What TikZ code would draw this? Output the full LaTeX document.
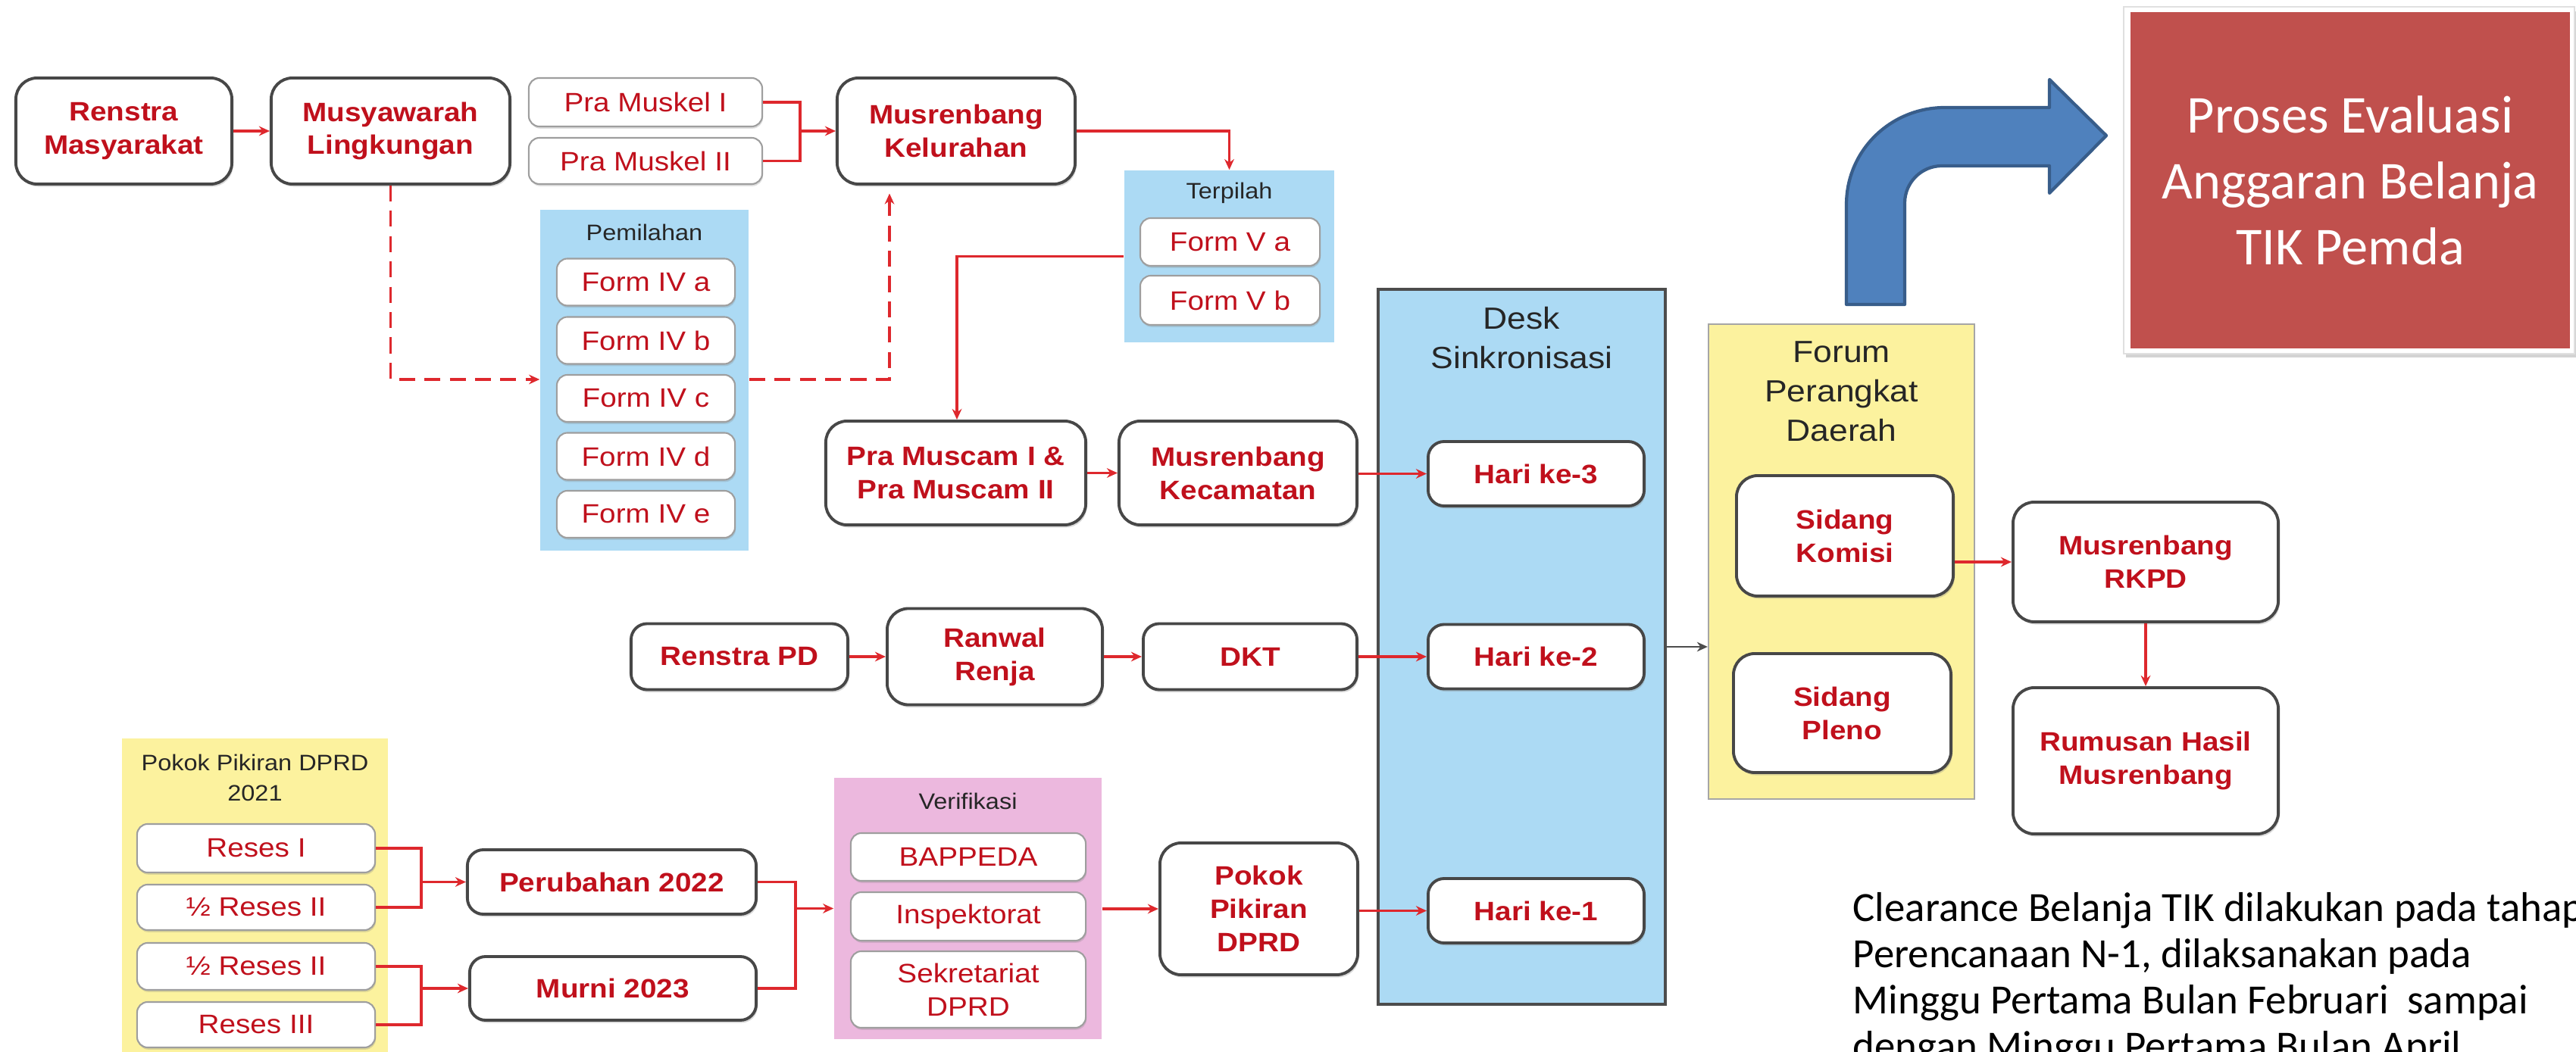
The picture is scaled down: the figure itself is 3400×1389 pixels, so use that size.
\documentclass[tikz,border=0pt]{standalone}
\usepackage{fontspec}
\setmainfont{Liberation Sans}
\newfontfamily\df[FakeStretch=1.1]{Liberation Sans}
\newfontfamily\calf{Carlito}
\usetikzlibrary{arrows.meta,shadows}
\definecolor{txtred}{RGB}{192,16,28}
\definecolor{lnred}{RGB}{222,40,45}
\definecolor{pblue}{RGB}{172,218,244}
\definecolor{pyellow}{RGB}{252,242,158}
\definecolor{ppink}{RGB}{236,184,222}
\definecolor{boxred}{RGB}{192,80,77}
\definecolor{arrblue}{RGB}{79,129,189}
\definecolor{arrblued}{RGB}{56,93,138}
\begin{document}
\begin{tikzpicture}[x=0.01cm,y=-0.01cm,
  mainbox/.style={draw=black!72, line width=1.1pt, fill=white, rounded corners=8pt, align=center, inner sep=0pt, text=txtred,
    font=\df\bfseries\fontsize{10}{12.5}\selectfont, drop shadow={shadow xshift=0.5pt, shadow yshift=-1pt, opacity=0.3}},
  hbox/.style={mainbox, rounded corners=6pt},
  lightbox/.style={draw=black!38, line width=0.6pt, fill=white, rounded corners=4pt, align=center, inner sep=0pt, text=txtred,
    font=\df\fontsize{10}{12.5}\selectfont, drop shadow={shadow xshift=0.3pt, shadow yshift=-0.8pt, opacity=0.25}},
  panel/.style={inner sep=0pt, draw=none},
  heading/.style={font=\df\fontsize{8.4}{11.4}\selectfont, text=black!85, align=center, inner sep=0pt},
  biglabel/.style={font=\df\fontsize{11.5}{14.8}\selectfont, text=black!85, align=center, inner sep=0pt},
  arr/.style={draw=lnred, line width=0.9pt, -{Stealth[length=4pt,width=3.6pt]}},
  ln/.style={draw=lnred, line width=0.9pt},
  dsh/.style={draw=lnred, line width=0.9pt, dash pattern=on 6pt off 3.5pt},
  note/.style={font=\calf\fontsize{15.6}{17.4}\selectfont, anchor=base west, inner sep=0pt, text=black}
]
\useasboundingbox (0,0) rectangle (3400,1389);
\clip (0,0) rectangle (3400,1389);

% ---------- panels ----------
\node[panel, fill=pblue, minimum width=2.75cm, minimum height=4.50cm] (pemil) at (850.5,502) {};
\node[heading] (pemlab) at (850.5,307) {Pemilahan};
\node[panel, fill=pblue, minimum width=2.77cm, minimum height=2.27cm] (terp) at (1622.5,338.5) {};
\node[heading] (terplab) at (1622.5,255) {Terpilah};
\node[panel, fill=pblue, draw=black!70, line width=1.2pt, minimum width=3.79cm, minimum height=9.44cm] (desk) at (2008.5,854) {};
\node[biglabel] (desklab) at (2008.5,446) {Desk\\Sinkronisasi};
\node[panel, fill=pyellow, draw=black!35, line width=0.6pt, minimum width=3.51cm, minimum height=6.27cm] (forum) at (2430.5,741.5) {};
\node[biglabel] (forumlab) at (2430.5,517) {Forum\\Perangkat\\Daerah};
\node[panel, fill=pyellow, minimum width=3.51cm, minimum height=4.45cm] (pp) at (336.5,1197.5) {};
\node[heading] (pplab) at (336.5,1027) {Pokok Pikiran DPRD\\2021};
\node[panel, fill=ppink, minimum width=3.53cm, minimum height=3.45cm] (verif) at (1277.5,1199.5) {};
\node[heading] (veriflab) at (1277.5,1058) {Verifikasi};

% ---------- top row ----------
\node[mainbox, minimum width=2.85cm, minimum height=1.40cm] (renstra) at (163.5,173) {Renstra\\Masyarakat};
\node[mainbox, minimum width=3.15cm, minimum height=1.40cm] (musy) at (515.5,173) {Musyawarah\\Lingkungan};
\node[lightbox, minimum width=3.08cm, minimum height=0.64cm] (pm1) at (852,135) {Pra Muskel I};
\node[lightbox, minimum width=3.08cm, minimum height=0.61cm] (pm2) at (852,212.5) {Pra Muskel II};
\node[mainbox, minimum width=3.14cm, minimum height=1.40cm] (kel) at (1262,173) {Musrenbang\\Kelurahan};

\node[lightbox, minimum width=2.35cm, minimum height=0.62cm] (f4a) at (852.5,372.5) {Form IV a};
\node[lightbox, minimum width=2.35cm, minimum height=0.62cm] (f4b) at (852.5,449.5) {Form IV b};
\node[lightbox, minimum width=2.35cm, minimum height=0.62cm] (f4c) at (852.5,526) {Form IV c};
\node[lightbox, minimum width=2.35cm, minimum height=0.62cm] (f4d) at (852.5,602.5) {Form IV d};
\node[lightbox, minimum width=2.35cm, minimum height=0.62cm] (f4e) at (852.5,679) {Form IV e};

\node[lightbox, minimum width=2.37cm, minimum height=0.63cm] (f5a) at (1623.5,319.5) {Form V a};
\node[lightbox, minimum width=2.37cm, minimum height=0.65cm] (f5b) at (1623.5,396.5) {Form V b};

% ---------- middle ----------
\node[mainbox, minimum width=3.43cm, minimum height=1.37cm] (pramuscam) at (1261.5,624.5) {Pra Muscam I \&\\Pra Muscam II};
\node[mainbox, minimum width=3.14cm, minimum height=1.37cm] (kec) at (1634,624.5) {Musrenbang\\Kecamatan};
\node[hbox, minimum width=2.85cm, minimum height=0.85cm] (hari3) at (2027.5,625.5) {Hari ke-3};
\node[hbox, minimum width=2.85cm, minimum height=0.85cm] (hari2) at (2027.5,867) {Hari ke-2};
\node[hbox, minimum width=2.85cm, minimum height=0.85cm] (hari1) at (2027.5,1202.5) {Hari ke-1};

\node[hbox, minimum width=2.86cm, minimum height=0.87cm] (renstrapd) at (976,867) {Renstra PD};
\node[mainbox, minimum width=2.84cm, minimum height=1.27cm] (ranwal) at (1313,867) {Ranwal\\Renja};
\node[hbox, minimum width=2.82cm, minimum height=0.87cm] (dkt) at (1650,867) {DKT};

\node[mainbox, minimum width=2.86cm, minimum height=1.59cm] (komisi) at (2435,707.5) {Sidang\\Komisi};
\node[mainbox, minimum width=2.87cm, minimum height=1.57cm] (pleno) at (2431.5,941.5) {Sidang\\Pleno};
\node[mainbox, minimum width=3.50cm, minimum height=1.58cm] (rkpd) at (2832,742) {Musrenbang\\RKPD};
\node[mainbox, minimum width=3.50cm, minimum height=1.93cm] (rumusan) at (2832,1004.5) {Rumusan Hasil\\Musrenbang};

% ---------- bottom ----------
\node[lightbox, minimum width=3.14cm, minimum height=0.64cm] (reses1) at (338,1120) {Reses I};
\node[lightbox, minimum width=3.14cm, minimum height=0.60cm] (reses2a) at (338,1198) {½ Reses II};
\node[lightbox, minimum width=3.14cm, minimum height=0.62cm] (reses2b) at (338,1276) {½ Reses II};
\node[lightbox, minimum width=3.14cm, minimum height=0.60cm] (reses3) at (338,1353) {Reses III};
\node[hbox, minimum width=3.81cm, minimum height=0.85cm] (perub) at (807.5,1164.5) {Perubahan 2022};
\node[hbox, minimum width=3.78cm, minimum height=0.84cm] (murni) at (809,1305) {Murni 2023};
\node[lightbox, minimum width=3.10cm, minimum height=0.63cm] (bappeda) at (1278,1131.5) {BAPPEDA};
\node[lightbox, minimum width=3.10cm, minimum height=0.64cm] (insp) at (1278,1210) {Inspektorat};
\node[lightbox, minimum width=3.10cm, minimum height=1.01cm] (sekr) at (1278,1306.5) {Sekretariat\\DPRD};
\node[mainbox, minimum width=2.61cm, minimum height=1.74cm] (pokok) at (1661.5,1200) {Pokok\\Pikiran\\DPRD};

% ---------- connectors ----------
\coordinate (bk1) at (1056,173);
\coordinate (d1) at (515.5,501);
\coordinate (d2) at (1174,501);
\coordinate (c1) at (1263,338.5);
\coordinate (rb) at (556,0);
\coordinate (vb) at (1050,0);

\draw[arr] (renstra.east) -- (musy.west);
\draw[ln] (pm1.east) -- (pm1.east -| bk1) -- (pm2.east -| bk1) -- (pm2.east);
\draw[arr] (bk1) -- (kel.west);
\draw[arr] (kel.east) -| (terp.north);
\draw[dsh, -{Stealth[length=4pt,width=3.6pt]}] (musy.south) -- (d1) -- (pemil.west |- d1);
\draw[dsh, -{Stealth[length=4pt,width=3.6pt]}] (pemil.east |- d2) -- (d2) -- ([yshift=-3pt]d2 |- kel.south);
\draw[arr] (terp.west |- c1) -- (c1) -- (c1 |- pramuscam.north);
\draw[arr] (pramuscam.east) -- (kec.west);
\draw[arr] (kec.east |- hari3.west) -- (hari3.west);
\draw[arr] (renstrapd.east) -- (ranwal.west);
\draw[arr] (ranwal.east) -- (dkt.west);
\draw[arr] (dkt.east) -- (hari2.west);
\draw[draw=black!70, line width=0.8pt, -{Stealth[length=4pt,width=3.6pt]}] (desk.east) -- (desk.east -| forum.west);
\draw[arr] (komisi.east |- rkpd.west) -- (rkpd.west);
\draw[arr] (rkpd.south) -- (rumusan.north);

\draw[ln] (reses1.east) -- (reses1.east -| rb) -- (reses2a.east -| rb) -- (reses2a.east);
\draw[arr] (rb |- perub.west) -- (perub.west);
\draw[ln] (reses2b.east) -- (reses2b.east -| rb) -- (reses3.east -| rb) -- (reses3.east);
\draw[arr] (rb |- murni.west) -- (murni.west);
\draw[ln] (perub.east) -- (perub.east -| vb) -- (murni.east -| vb) -- (murni.east);
\draw[arr] (vb |- verif.west) -- (verif.west);
\draw[arr] (verif.east |- pokok.west) -- (pokok.west);
\draw[arr] (pokok.east |- hari1.west) -- (hari1.west);

% ---------- blue bent arrow ----------
\draw[fill=arrblue, draw=arrblued, line width=1.2pt, line join=round]
  (2437,402) -- (2437,270) .. controls (2437,199) and (2495,142) .. (2567,142)
  -- (2705,142) -- (2705,105) -- (2780,179) -- (2705,255) -- (2705,219)
  -- (2563,219) .. controls (2536,219) and (2514,241) .. (2514,268)
  -- (2514,402) -- cycle;

% ---------- red box ----------
\node[panel, fill=white, draw=black!12, line width=0.5pt, minimum width=5.95cm, minimum height=4.57cm,
  drop shadow={shadow xshift=1pt, shadow yshift=-1.6pt, opacity=0.35}] (frame) at (3100.5,238) {};
\node[panel, fill=boxred, minimum width=5.80cm, minimum height=4.44cm, text=white, align=center,
  font=\calf\fontsize{20}{24.75}\selectfont] (redbox) at (3102,238) {Proses Evaluasi\\Anggaran Belanja\\TIK Pemda};

% ---------- note ----------
\node[note] (t1) at (2445,1216) {Clearance Belanja TIK dilakukan pada tahap};
\node[note] (t2) at (2445,1277) {Perencanaan N-1, dilaksanakan pada};
\node[note] (t3) at (2445,1338) {Minggu Pertama Bulan Februari\ \ sampai};
\node[note] (t4) at (2445,1399) {dengan Minggu Pertama Bulan April};
\end{tikzpicture}
\end{document}
